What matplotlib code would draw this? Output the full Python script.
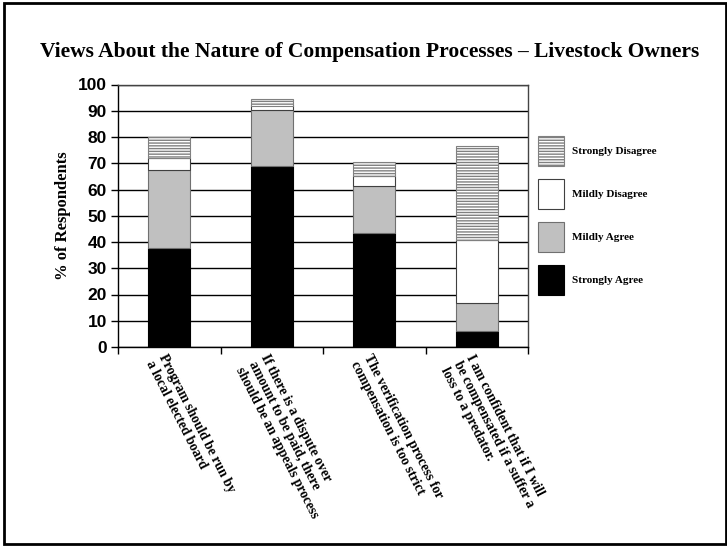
import numpy as np
import matplotlib.pyplot as plt
from matplotlib.patches import Rectangle

# statements (x axis)
statements = ['Program should be run by\na local elected board',
              'If there is a dispute over\namount to be paid, there\nshould be an appeals process',
              'The verification process for\ncompensation is too strict',
              'I am confident that if I will\nbe compensated if a suffer a\nloss to a predator.']

# % of respondents per answer
strongly_agree = [37.6, 68.8, 43.3, 6.1]
mildly_agree = [29.7, 21.3, 18.1, 10.8]
mildly_disagree = [4.7, 1.9, 3.8, 23.9]
strongly_disagree = [7.9, 2.3, 5.1, 35.8]

plt.rcParams['hatch.linewidth'] = 1.0

fig = plt.figure(figsize=(7.27, 5.46), dpi=100)
ax = fig.add_axes([118/727, 1-347/546, 410/727, 262.5/546])

x = np.arange(len(statements))
w = 0.41

b1 = ax.bar(x, strongly_agree, w, color='black', edgecolor='black', linewidth=0.8, zorder=3)
bottom = np.array(strongly_agree)
b2 = ax.bar(x, mildly_agree, w, bottom=bottom, color='#c0c0c0', edgecolor='#707070', linewidth=0.8, zorder=3)
bottom = bottom + np.array(mildly_agree)
b3 = ax.bar(x, mildly_disagree, w, bottom=bottom, color='white', edgecolor='#404040', linewidth=0.8, zorder=3)
bottom = bottom + np.array(mildly_disagree)
b4 = ax.bar(x, strongly_disagree, w, bottom=bottom, color='white', edgecolor='#808080', hatch='------', linewidth=0.8, zorder=3)

ax.set_xlim(-0.5, 3.5)
ax.set_ylim(0, 100)
ax.set_yticks(range(0, 101, 10))
ax.set_yticklabels([str(v) for v in range(0, 101, 10)], fontfamily='Liberation Sans', fontweight='bold', fontsize=12.5)
ax.tick_params(axis='y', direction='out', length=5, width=1, pad=3)
ax.set_xticks(np.arange(-0.5, 4, 1))
ax.set_xticklabels([])
ax.tick_params(axis='x', direction='out', length=5, width=1)
ax.grid(axis='y', color='black', linewidth=1)
ax.set_axisbelow(True)
for s in ax.spines.values():
    s.set_linewidth(1)
    s.set_color('black')
ax.spines['top'].set_color('#444444')
ax.spines['right'].set_color('#444444')

ax.set_ylabel('% of Respondents', fontfamily='Liberation Serif', fontweight='bold', fontsize=12, labelpad=5)

# rotated statement labels
for i, s in enumerate(statements):
    ax.text(i - 0.02, -2, s, rotation=-63, rotation_mode='anchor', ha='left', va='top',
            fontfamily='Liberation Serif', fontweight='bold', fontsize=9.8, linespacing=1.1,
            transform=ax.transData, clip_on=False)

fig.text(370/727, 1-52/546, 'Views About the Nature of Compensation Processes \u2013 Livestock Owners',
         ha='center', va='center', fontfamily='Liberation Serif', fontweight='bold', fontsize=15.5)

leg = ax.legend([b4, b3, b2, b1], ['Strongly Disagree', 'Mildly Disagree', 'Mildly Agree', 'Strongly Agree'],
                loc='upper left', bbox_to_anchor=(538/727, 1-136/546), bbox_transform=fig.transFigure,
                frameon=False, borderpad=0, borderaxespad=0, handlelength=2.35, handleheight=3.8,
                labelspacing=1.15, handletextpad=0.75,
                prop={'family': 'Liberation Serif', 'weight': 'bold', 'size': 8})

# outer border
fig.patches.append(Rectangle((4/727, 2/546), 722/727, 541/546, transform=fig.transFigure,
                             fill=False, edgecolor='black', linewidth=2))

fig.savefig('out.png', dpi=100)
